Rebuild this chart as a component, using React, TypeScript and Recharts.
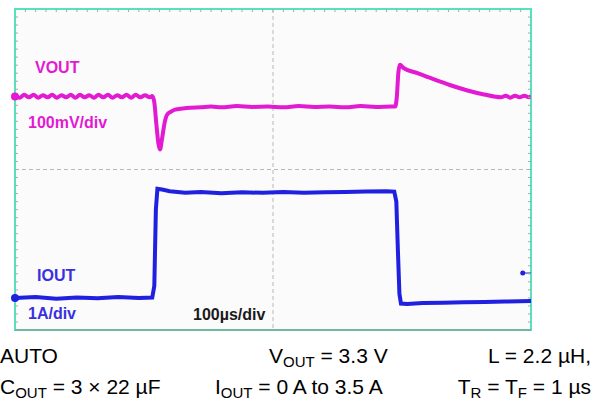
import React from "react";
import {
  LineChart,
  Line,
  XAxis,
  YAxis,
  CartesianGrid,
  ReferenceArea,
  ReferenceLine,
  ReferenceDot,
} from "recharts";

// scope capture: time in µs (100 µs/div, 10 div across)
// VOUT as deviation from 3.3 V in mV (100 mV/div), IOUT in A (1 A/div)
const voutTrace: [number, number][] = [
  [0, 1], [9, -3], [18, 4], [27, -2], [36, 4], [45, -3], [54, 3], [63, -2],
  [72, 4], [81, -3], [90, 3], [99, -2], [108, 4], [117, -3], [126, 4],
  [135, -2], [144, 3], [153, -3], [162, 4], [171, -2], [180, 4], [189, -3],
  [198, 3], [207, -2], [216, 4], [225, -3], [234, 4], [243, -2], [252, 3],
  [261, -2], [266, 1],
  [270, -15], [274, -70], [278, -118], [281, -132], [285, -105], [290, -65],
  [295, -45], [302, -38], [310, -33], [325, -30], [340, -28], [360, -27],
  [380, -25], [400, -27], [430, -24], [460, -26], [490, -25], [520, -27],
  [550, -24], [580, -26], [610, -25], [640, -27], [670, -24], [700, -26],
  [730, -25], [737, -25],
  [740, 0], [743, 60], [746, 79], [752, 72], [780, 58], [811, 43], [844, 28],
  [877, 15], [909, 5], [942, -2], [951, 2], [960, -3], [969, 2], [978, -2],
  [987, 2], [996, -2], [1000, 1],
];

const ioutTrace: [number, number][] = [
  [0, 0], [40, 0.02], [80, -0.02], [120, 0.01], [160, -0.01], [200, 0.02],
  [240, 0], [266, 0.01], [270, 0.3], [273, 2.2], [276, 2.72], [285, 2.7],
  [300, 2.66], [330, 2.62], [360, 2.64], [400, 2.61], [440, 2.63],
  [480, 2.62], [520, 2.64], [560, 2.62], [600, 2.63], [640, 2.64],
  [680, 2.65], [720, 2.66], [735, 2.65], [739, 2.4], [742, 1.2], [745, 0.1],
  [748, -0.14], [760, -0.15], [790, -0.13], [830, -0.12], [870, -0.11],
  [910, -0.1], [950, -0.09], [1000, -0.08],
];

// level marker on the right edge (µs, A)
const ioutMarker = { t: 984, a: 0.62 };

const V_DOMAIN: [number, number] = [-582, 218];
const I_DOMAIN: [number, number] = [-0.8, 7.2];

// minor graticule ticks (0.2 div)
const timeTicks = Array.from({ length: 49 }, (_, i) => (i + 1) * 20);
const vTicks = Array.from({ length: 39 }, (_, i) => V_DOMAIN[0] + (i + 1) * 20);
const iTicks = Array.from({ length: 39 }, (_, i) => +(I_DOMAIN[0] + (i + 1) * 0.2).toFixed(1));

const voutData = voutTrace.map(([t, v]) => ({ t, v }));
const ioutData = ioutTrace.map(([t, a]) => ({ t, a }));

const MAGENTA = "#e21ad2";
const BLUE = "#2020e0";
const FRAME = "#55e3bd";
const GRID = "#b8b8b8";
const TICK = "#a8a8a8";
const FONT = "'Liberation Sans', Arial, sans-serif";

const noLabel = () => <g />;

export default function App() {
  return (
    <div
      style={{
        position: "absolute",
        left: 0,
        top: 0,
        width: 603,
        height: 402,
        fontFamily: FONT,
      }}
    >
      <div style={{ position: "absolute", left: 8, top: 8 }}>
        <LineChart
          width={524}
          height={324}
          margin={{ top: 1, right: 1, bottom: 2, left: 7 }}
        >
          <CartesianGrid yAxisId="v" horizontal={false} vertical={false} fill="#fbfbfb" />
          <XAxis
            dataKey="t"
            type="number"
            orientation="top"
            domain={[0, 1000]}
            ticks={timeTicks}
            interval={0}
            allowDataOverflow
            height={1}
            mirror
            tick={noLabel}
            axisLine={false}
            tickSize={3}
            tickLine={{ stroke: TICK }}
          />
          <YAxis
            yAxisId="v"
            type="number"
            domain={V_DOMAIN}
            ticks={vTicks}
            interval={0}
            allowDataOverflow
            width={1}
            mirror
            tick={noLabel}
            axisLine={false}
            tickSize={3}
            tickLine={{ stroke: TICK }}
          />
          <YAxis
            yAxisId="i"
            orientation="right"
            type="number"
            domain={I_DOMAIN}
            ticks={iTicks}
            interval={0}
            allowDataOverflow
            width={1}
            mirror
            tick={noLabel}
            axisLine={false}
            tickSize={3}
            tickLine={{ stroke: TICK }}
          />

          <ReferenceArea
            yAxisId="v"
            x1={0}
            x2={1000}
            y1={V_DOMAIN[0]}
            y2={V_DOMAIN[1]}
            fill="none"
            stroke={FRAME}
            strokeWidth={2}
          />
          <ReferenceLine yAxisId="v" x={500} stroke={GRID} strokeDasharray="4 3" />
          <ReferenceLine yAxisId="v" y={-182} stroke={GRID} strokeDasharray="4 3" />
          <ReferenceLine yAxisId="v" y={V_DOMAIN[0]} stroke="#8c8c8c" strokeWidth={1} />

          <Line
            yAxisId="v"
            data={voutData}
            dataKey="v"
            type="monotone"
            stroke={MAGENTA}
            strokeWidth={4}
            dot={false}
            isAnimationActive={false}
          />
          <Line
            yAxisId="i"
            data={ioutData}
            dataKey="a"
            type="linear"
            stroke={BLUE}
            strokeWidth={4}
            dot={false}
            isAnimationActive={false}
          />

          <ReferenceDot yAxisId="v" x={0} y={0} r={4} fill={MAGENTA} stroke="none" ifOverflow="visible" />
          <ReferenceDot yAxisId="i" x={0} y={0} r={4} fill={BLUE} stroke="none" ifOverflow="visible" />
          <ReferenceLine
            yAxisId="i"
            segment={[
              { x: ioutMarker.t, y: ioutMarker.a },
              { x: 1000, y: ioutMarker.a },
            ]}
            stroke={BLUE}
            strokeWidth={1}
          />
          <ReferenceDot yAxisId="i" x={ioutMarker.t} y={ioutMarker.a} r={2.5} fill={BLUE} stroke="none" />
        </LineChart>
      </div>

      <svg
        width={603}
        height={402}
        style={{ position: "absolute", left: 0, top: 0, pointerEvents: "none" }}
        fontFamily={FONT}
      >
        <g fontWeight="bold" fontSize={16}>
          <text x={35} y={73} fill={MAGENTA}>VOUT</text>
          <text x={28} y={128} fill={MAGENTA}>100mV/div</text>
          <text x={37} y={281} fill="#3a30e0">IOUT</text>
          <text x={28} y={319} fill="#3a30e0">1A/div</text>
          <text x={193} y={320} fill="#1a1a1a">100µs/div</text>
        </g>
        <g fontSize={21} fill="#000">
          <text x={0} y={363}>AUTO</text>
          <text x={269} y={363}>
            V<tspan fontSize={15} dy={4}>OUT</tspan>
            <tspan dy={-4}> = 3.3 V</tspan>
          </text>
          <text x={591} y={363} textAnchor="end">L = 2.2 µH,</text>
          <text x={0} y={394}>
            C<tspan fontSize={15} dy={4}>OUT</tspan>
            <tspan dy={-4}> = 3 × 22 µF</tspan>
          </text>
          <text x={215} y={394}>
            I<tspan fontSize={15} dy={4}>OUT</tspan>
            <tspan dy={-4}> = 0 A to 3.5 A</tspan>
          </text>
          <text x={591} y={394} textAnchor="end">
            T<tspan fontSize={15} dy={4}>R</tspan>
            <tspan dy={-4}> = T</tspan>
            <tspan fontSize={15} dy={4}>F</tspan>
            <tspan dy={-4}> = 1 µs</tspan>
          </text>
        </g>
      </svg>
    </div>
  );
}
